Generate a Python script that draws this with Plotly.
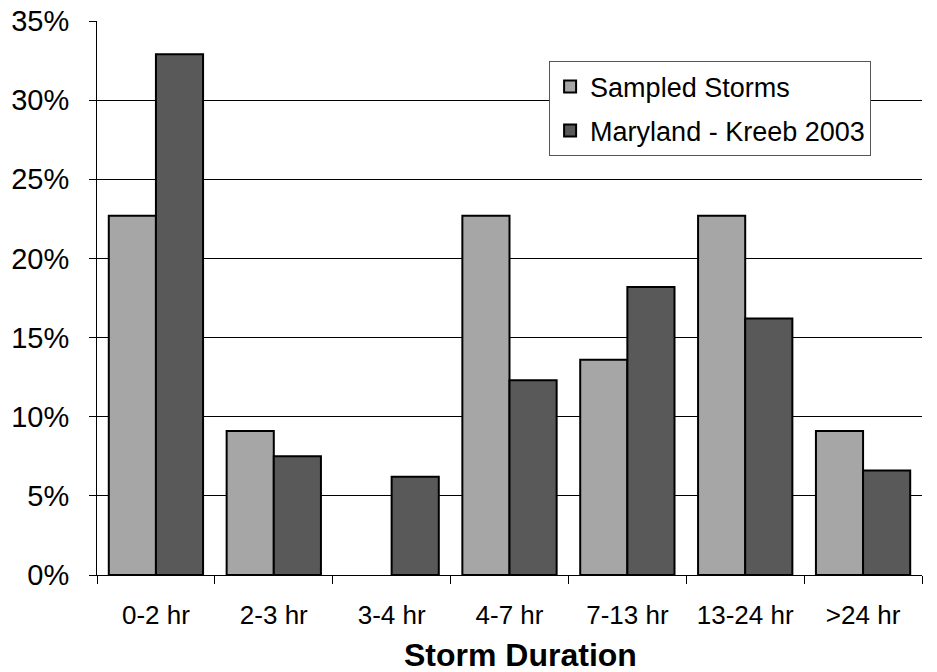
import plotly.graph_objects as go

# Share of storms falling in each duration class (percent)
categories = ["0-2 hr", "2-3 hr", "3-4 hr", "4-7 hr", "7-13 hr", "13-24 hr", ">24 hr"]
sampled_storms = [22.7, 9.1, 0.0, 22.7, 13.6, 22.7, 9.1]
maryland_kreeb = [32.9, 7.5, 6.2, 12.3, 18.2, 16.2, 6.6]
y_ticks = [0, 5, 10, 15, 20, 25, 30, 35]
y_tick_labels = [f"{v}%" for v in y_ticks]

FONT = "Liberation Sans, Arial, sans-serif"
EDGE = 2.0


def edge_widths(values):
    # empty classes get no outline so nothing shows on the baseline
    return [EDGE if v > 0 else 0 for v in values]


fig = go.Figure()
fig.add_trace(go.Bar(
    x=categories, y=sampled_storms, name="Sampled Storms", legendgroup="a",
    marker=dict(color="#a6a6a6",
                line=dict(color="#000000", width=edge_widths(sampled_storms))),
))
fig.add_trace(go.Bar(
    x=categories, y=maryland_kreeb, name="Maryland - Kreeb 2003", legendgroup="b",
    marker=dict(color="#595959",
                line=dict(color="#000000", width=edge_widths(maryland_kreeb))),
))

fig.update_layout(
    width=937, height=672,
    margin=dict(l=97, r=15, t=21, b=97),
    paper_bgcolor="white", plot_bgcolor="white",
    font=dict(family=FONT, color="#000000"),
    barmode="group", bargap=0.2, bargroupgap=0.0,
    showlegend=True,
    legend=dict(
        x=0.548, y=0.927, xanchor="left", yanchor="top",
        bgcolor="white", bordercolor="#555555", borderwidth=1,
        font=dict(size=27, family=FONT),
        tracegroupgap=6,
        itemclick=False,
    ),
)

fig.update_xaxes(
    type="category", automargin=False,
    showline=True, linecolor="#000000", linewidth=1,
    ticks="outside", tickson="boundaries", ticklen=8, tickcolor="#000000",
    tickfont=dict(size=26, family=FONT),
    ticklabelstandoff=17,
    showgrid=False, zeroline=False,
)
fig.update_yaxes(
    range=[0, 35], tickvals=y_ticks, ticktext=y_tick_labels, automargin=False,
    showline=True, linecolor="#000000", linewidth=1,
    ticks="outside", ticklen=7, tickcolor="#000000",
    tickfont=dict(size=29, family=FONT),
    ticklabelstandoff=14,
    showgrid=True, gridcolor="#000000", gridwidth=1,
    zeroline=False,
)

fig.add_annotation(
    text="Storm Duration", xref="paper", yref="paper",
    x=0.513, y=-0.1453, xanchor="center", yanchor="middle",
    showarrow=False,
    font=dict(size=32, family=FONT, weight="bold"),
)

fig.write_html("out.html")
